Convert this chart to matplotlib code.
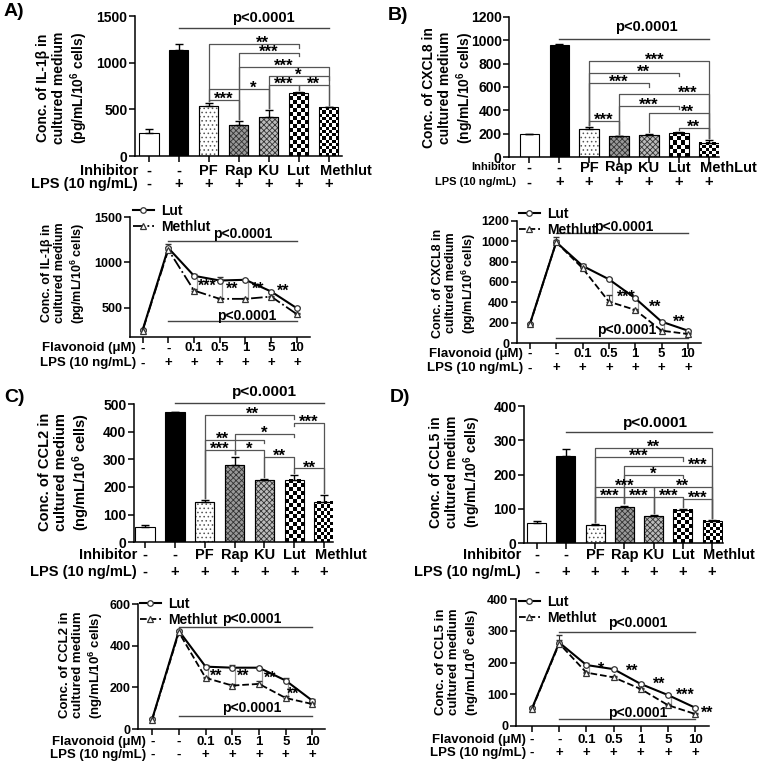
import numpy as np
import matplotlib.pyplot as plt
from matplotlib.transforms import blended_transform_factory

plt.rcParams['font.family'] = ['Liberation Sans', 'DejaVu Sans']
plt.rcParams['font.weight'] = 'bold'
plt.rcParams['mathtext.fontset'] = 'custom'
plt.rcParams['mathtext.rm'] = 'Liberation Sans:bold'
plt.rcParams['mathtext.default'] = 'rm'
plt.rcParams['hatch.linewidth'] = 0.6
plt.rcParams['axes.linewidth'] = 1.1

# ---------------- data -----------------
inhib_A = ['-', '-', 'PF', 'Rap', 'KU', 'Lut', 'Methlut']
inhib_B = ['-', '-', 'PF', 'Rap', 'KU', 'Lut', 'MethLut']
lps_bar = ['-', '+', '+', '+', '+', '+', '+']
flavonoid = ['-', '-', '0.1', '0.5', '1', '5', '10']
lps_line = ['-', '+', '+', '+', '+', '+', '+']
lps_line_C = ['-', '-', '+', '+', '+', '+', '+']

il1b_bar = [250, 1140, 540, 330, 420, 680, 520]
il1b_bar_err = [35, 55, 30, 40, 75, 10, 5]
cxcl8_bar = [195, 960, 245, 180, 190, 210, 125]
cxcl8_bar_err = [3, 5, 10, 5, 5, 3, 20]
ccl2_bar = [55, 470, 145, 280, 225, 225, 145]
ccl2_bar_err = [8, 2, 7, 30, 5, 17, 25]
ccl5_bar = [58, 255, 53, 107, 79, 97, 66]
ccl5_bar_err = [8, 20, 2, 3, 2, 2, 1]

il1b_lut = [252, 1160, 852, 800, 808, 678, 493]
il1b_lut_err = [10, 45, 15, 40, 10, 10, 10]
il1b_meth = [245, 1140, 689, 597, 597, 622, 427]
il1b_meth_err = [10, 30, 15, 10, 10, 10, 15]
cxcl8_lut = [189, 990, 758, 627, 441, 212, 124]
cxcl8_lut_err = [5, 50, 15, 10, 10, 5, 10]
cxcl8_meth = [185, 990, 735, 408, 327, 124, 91]
cxcl8_meth_err = [5, 20, 10, 60, 5, 5, 10]
ccl2_lut = [48, 472, 300, 295, 295, 233, 136]
ccl2_lut_err = [3, 5, 10, 15, 5, 12, 10]
ccl2_meth = [45, 465, 246, 209, 217, 149, 120]
ccl2_meth_err = [3, 5, 5, 8, 15, 8, 5]
ccl5_lut = [55, 263, 192, 179, 132, 97, 57]
ccl5_lut_err = [3, 25, 5, 5, 3, 3, 3]
ccl5_meth = [53, 260, 168, 153, 116, 65, 37]
ccl5_meth_err = [3, 10, 3, 3, 3, 3, 3]

# significance brackets: (from, to, height, stars, left leg, right leg, text x)
sig_A = [(2, 5, 1200, '**', 'l', 's', 3.8), (3, 5, 1104, '***', 'l', 's', None),
         (3, 6, 955, '***', 'l', 'l', None), (4, 6, 857, '*', 'l', 's', None),
         (4, 5, 760, '***', 'l', 'l', None), (5, 6, 760, '**', 'l', 'l', None),
         (2, 4, 716, '*', 'l', 'l', 3.5), (2, 3, 600, '***', 'l', 'l', None)]
sig_B = [(2, 6, 823, '***', 'l', 'l', 4.2), (2, 5, 723, '**', 'l', 's', 3.8),
         (2, 4, 632, '***', 'l', 's', None), (3, 6, 538, '***', 'l', 'l', 5.3),
         (3, 5, 438, '***', 'l', 's', None), (4, 6, 376, '**', 'l', 'l', 5.3),
         (2, 3, 313, '***', 'l', 'l', None), (5, 6, 253, '**', 'l', 'l', None)]
sig_C = [(2, 5, 460, '**', 'l', 's', 3.6), (5, 6, 432, '***', 's', 'l', None),
         (3, 5, 393, '*', 'l', 's', None), (2, 4, 370, '**', 'l', 's', 2.6),
         (2, 3, 333, '***', 'l', 'l', None), (3, 4, 333, '*', 'l', 'l', None),
         (4, 5, 309, '**', 'l', 'l', None), (5, 6, 267, '**', 'l', 'l', None)]
sig_D = [(2, 6, 277, '**', 'l', 'l', None), (2, 5, 251, '***', 'l', 's', None),
         (3, 6, 225, '***', 'l', 'l', 5.5), (3, 5, 199, '*', 'l', 's', None),
         (2, 4, 165, '***', 'l', 's', None), (4, 6, 165, '**', 'l', 'l', None),
         (2, 3, 136, '***', 'l', 'l', None), (3, 4, 136, '***', 'l', 'l', None),
         (4, 5, 136, '***', 'l', 'l', None), (5, 6, 130, '***', 'l', 'l', None)]

# stars between the curves: (stars, x, y) and bracket positions
stars_A = [('***', 2.5, 733), ('**', 3.5, 697), ('**', 4.5, 697), ('**', 5.45, 678)]
gaps_A = [2, 3, 4]
stars_B = [('***', 3.65, 441), ('**', 4.75, 343), ('**', 5.67, 196)]
gaps_B = [3, 4, 5]
stars_C = [('**', 2.4, 251), ('**', 3.4, 249), ('**', 4.4, 240), ('**', 5.27, 165)]
gaps_C = [2, 3, 4, 5]
stars_D = [('*', 2.55, 176), ('**', 3.7, 171), ('**', 4.67, 129), ('***', 5.63, 94), ('**', 6.46, 37)]
gaps_D = [2, 5]

W, H = 762, 764
fig = plt.figure(figsize=(W / 100, H / 100), dpi=100)


def fy(ypx):
    return 1 - ypx / H


def axes_at(x0, x1, ytop, ybot):
    return fig.add_axes([x0 / W, fy(ybot), (x1 - x0) / W, (ybot - ytop) / H])


def style(ax, xlim, ylim, yticks, size):
    ax.set_xlim(xlim)
    ax.set_ylim(ylim)
    ax.set_yticks(yticks)
    ax.set_xticks(range(7))
    ax.set_xticklabels([])
    ax.spines[['top', 'right']].set_visible(False)
    ax.tick_params(direction='out', width=1.1, length=4, labelsize=size, pad=1.5)


def rows(ax, names, labelsets, ys, xr, name_size, size):
    tr = blended_transform_factory(ax.transData, fig.transFigure)
    for name, labels, y in zip(names, labelsets, ys):
        fig.text(xr / W, fy(y), name, ha='right', va='center', fontsize=name_size)
        for i, lab in enumerate(labels):
            if len(lab) > 4:
                ax.text(i - 0.3, fy(y), lab, transform=tr, ha='left', va='center',
                        fontsize=size, clip_on=False)
            else:
                ax.text(i, fy(y), lab, transform=tr, ha='center', va='center',
                        fontsize=size, clip_on=False)


def stars(ax, x, y, lab, size=12):
    ax.annotate(lab, (x, y), xytext=(0, -4), textcoords='offset pixels',
                ha='center', va='baseline', fontsize=size, annotation_clip=False)


def pval(ax, x0, x1, y, tx, ty, size=10.5):
    ax.plot([x0, x1], [y, y], color='#444444', lw=1, clip_on=False)
    ax.text(tx, ty, 'p<0.0001', ha='center', va='center', fontsize=size, clip_on=False)


def bar_panel(box, xlim, ylim, yticks, vals, errs, sig, px_per_x):
    ax = axes_at(*box)
    w = 0.65
    px_per_y = (box[3] - box[2]) / (ylim[1] - ylim[0])
    styles = ['white', 'black', 'dots', 'grid', 'grid2', 'check', 'check2']
    for i, v in enumerate(vals):
        s = styles[i]
        if s.startswith('check'):
            n = 5 if s == 'check' else 6
            sq = w * px_per_x / n
            nr = max(1, int(round(v * px_per_y / sq)))
            board = np.add.outer(np.arange(nr), np.arange(n)) % 2
            ax.imshow(board, extent=(i - w / 2, i + w / 2, 0, v), cmap='gray',
                      interpolation='nearest', aspect='auto', origin='lower', zorder=1)
            ax.bar(i, v, w, facecolor='none', edgecolor='black', lw=0.8, zorder=2)
        elif s == 'black':
            ax.bar(i, v, w, color='black', edgecolor='black', lw=0.8, zorder=2)
        elif s == 'white':
            ax.bar(i, v, w, color='white', edgecolor='black', lw=0.8, zorder=2)
        elif s == 'dots':
            ax.bar(i, v, w, color='white', edgecolor='#555555', hatch='....', lw=0.8, zorder=2)
            ax.bar(i, v, w, facecolor='none', edgecolor='black', lw=0.8, zorder=2)
        else:
            ax.bar(i, v, w, color='#bbbbbb' if s == 'grid2' else '#999999',
                   edgecolor='#333333', hatch='xxxxxx', lw=0.8, zorder=2)
            ax.bar(i, v, w, facecolor='none', edgecolor='black', lw=0.8, zorder=2)
    ax.errorbar(range(7), vals, yerr=[np.zeros(7), errs], fmt='none', ecolor='black',
                elinewidth=1, capsize=3, capthick=1, zorder=3)
    short = 0.025 * (ylim[1] - ylim[0])
    tops = np.array(vals) + np.array(errs)
    for i, j, y, lab, ll, lr, tx in sig:
        yl = tops[i] + short * 0.6 if ll == 'l' else y - short
        yr = tops[j] + short * 0.6 if lr == 'l' else y - short
        ax.plot([i, i, j, j], [yl, y, y, yr], color='#555555', lw=0.9, clip_on=False)
        stars(ax, (i + j) / 2 if tx is None else tx, y, lab)
    style(ax, xlim, ylim, yticks, 10)
    return ax


def line_panel(box, xlim, ylim, yticks, lut, lut_err, meth, meth_err, ls, st, gaps):
    ax = axes_at(*box)
    x = np.arange(7)
    ax.errorbar(x, lut, yerr=[np.zeros(7), lut_err], fmt='none', ecolor='#333333',
                elinewidth=0.8, capsize=2.5, zorder=2)
    ax.errorbar(x, meth, yerr=[np.zeros(7), meth_err], fmt='none', ecolor='#333333',
                elinewidth=0.8, capsize=2.5, zorder=2)
    h1, = ax.plot(x, lut, color='black', lw=1.5, marker='o', ms=4, mfc='white',
                  mec='#333333', mew=0.9, zorder=3)
    h2, = ax.plot(x, meth, color='black', lw=1.3, ls=ls, marker='^', ms=4, mfc='white',
                  mec='#333333', mew=0.9, zorder=3)
    for g in gaps:
        lo, hi = meth[g], lut[g]
        ax.plot([g + 0.03, g + 0.1, g + 0.1, g + 0.03], [lo, lo, hi, hi],
                color='#999999', lw=0.9, zorder=1)
    for lab, sx, sy in st:
        stars(ax, sx, sy, lab, 11.5)
    style(ax, xlim, ylim, yticks, 9)
    return ax, (h1, h2)


def legend(handles, xpx, ypx):
    fig.legend(handles, ['Lut', 'Methlut'], loc='upper left', bbox_to_anchor=(xpx / W, fy(ypx)),
               frameon=False, fontsize=10, handlelength=1.5, handletextpad=0.5,
               labelspacing=0.15, borderpad=0, borderaxespad=0)


def ylab(text, xpx, ypx, size):
    fig.text(xpx / W, fy(ypx), text, rotation=90, ha='center', va='center',
             multialignment='center', fontsize=size, linespacing=1.2)


# ---------------- panel A -----------------
ax = bar_panel((135, 342, 16, 156), (-0.46, 6.45), (0, 1500), [0, 500, 1000, 1500],
               il1b_bar, il1b_bar_err, sig_A, 30.2)
pval(ax, 1, 6, 1371, 3.84, 1478)
rows(ax, ['Inhibitor', 'LPS (10 ng/mL)'], [inhib_A, lps_bar], [171, 184], 138, 10.5, 10.5)
ylab('Conc. of IL-1β in\ncultured medium\n(pg/mL/10$^6$ cells)', 63, 88, 10)

ax, hh = line_panel((130, 310, 217.3, 336.7), (-0.49, 6.51), (178, 1500), [500, 1000, 1500],
                    il1b_lut, il1b_lut_err, il1b_meth, il1b_meth_err, '-.', stars_A, gaps_A)
pval(ax, 1, 6, 1233, 3.9, 1320, 10)
pval(ax, 1, 6, 352, 4.06, 408, 10)
rows(ax, ['Flavonoid (μM)', 'LPS (10 ng/mL)'], [flavonoid, lps_line], [348.3, 363.3], 136, 9.5, 9.5)
legend(hh, 133, 204)
ylab('Conc. of IL-1β in\ncultured medium\n(pg/mL/10$^6$ cells)', 64, 273, 9)

# ---------------- panel B -----------------
ax = bar_panel((509.3, 719, 16.7, 157.3), (-0.67, 6.34), (0, 1200), range(0, 1201, 200),
               cxcl8_bar, cxcl8_bar_err, sig_B, 29.9)
pval(ax, 1, 6, 1009, 3.9, 1112)
rows(ax, ['Inhibitor', 'LPS (10 ng/mL)'], [inhib_B, lps_bar], [167.5, 182.3], 516, 8, 10.5)
ylab('Conc. of CXCL8 in\ncultured medium\n(ng/mL/10$^6$ cells)', 449, 88, 10)

ax, hh = line_panel((517, 701, 220.7, 343.3), (-0.49, 6.5), (0, 1200), range(0, 1201, 200),
                    cxcl8_lut, cxcl8_lut_err, cxcl8_meth, cxcl8_meth_err, '--', stars_B, gaps_B)
pval(ax, 1, 6, 1078, 3.57, 1143, 10)
pval(ax, 1, 6, 55, 3.69, 130, 10)
rows(ax, ['Flavonoid (μM)', 'LPS (10 ng/mL)'], [flavonoid, lps_line], [354, 368.3], 523, 9.5, 9.5)
legend(hh, 519, 207)
ylab('Conc. of CXCL8 in\ncultured medium\n(pg/mL/10$^6$ cells)', 455, 283, 9)

# ---------------- panel C -----------------
ax = bar_panel((134, 333, 404, 542.3), (-0.37, 6.3), (0, 500), range(0, 501, 100),
               ccl2_bar, ccl2_bar_err, sig_C, 29.9)
pval(ax, 1, 6, 502, 4.0, 544, 11)
rows(ax, ['Inhibitor', 'LPS (10 ng/mL)'], [inhib_A, lps_bar], [555, 571.7], 137, 10.5, 10.5)
ylab('Conc. of CCL2 in\ncultured medium\n(ng/mL/10$^6$ cells)', 65, 472, 10.5)

ax, hh = line_panel((138.3, 325, 604.3, 729), (-0.52, 6.47), (0, 600), [0, 200, 400, 600],
                    ccl2_lut, ccl2_lut_err, ccl2_meth, ccl2_meth_err, '--', stars_C, gaps_C)
pval(ax, 1, 6, 492, 3.73, 529, 10)
pval(ax, 1, 6, 63, 3.73, 100, 10)
rows(ax, ['Flavonoid (μM)', 'LPS (10 ng/mL)'], [flavonoid, lps_line_C], [741.7, 755], 146, 9.5, 9.5)
legend(hh, 140, 597)
ylab('Conc. of CCL2 in\ncultured medium\n(ng/mL/10$^6$ cells)', 82, 665, 9.5)

# ---------------- panel D -----------------
ax = bar_panel((524.3, 722.7, 406, 543.3), (-0.42, 6.36), (0, 400), range(0, 401, 100),
               ccl5_bar, ccl5_bar_err, sig_D, 29.3)
pval(ax, 1, 6, 323, 4.07, 350, 11)
rows(ax, ['Inhibitor', 'LPS (10 ng/mL)'], [inhib_A, lps_bar], [555, 571.7], 521, 10.5, 10.5)
ylab('Conc. of CCL5 in\ncultured medium\n(ng/mL/10$^6$ cells)', 456, 472, 10)

ax, hh = line_panel((516, 709.3, 599.3, 725.7), (-0.59, 6.52), (0, 400), range(0, 401, 100),
                    ccl5_lut, ccl5_lut_err, ccl5_meth, ccl5_meth_err, '--', stars_D, gaps_D)
pval(ax, 1, 6, 297, 3.9, 324, 10)
pval(ax, 1, 6, 20, 3.89, 41, 10)
rows(ax, ['Flavonoid (μM)', 'LPS (10 ng/mL)'], [flavonoid, lps_line], [740, 752.7], 526, 9.5, 9.5)
legend(hh, 519, 595)
ylab('Conc. of CCL5 in\ncultured medium\n(ng/mL/10$^6$ cells)', 458, 662, 9.5)

# panel letters
for lab, x, y in [('A)', 4, 12), ('B)', 388, 16), ('C)', 4, 397), ('D)', 390, 397)]:
    fig.text(x / W, fy(y), lab, ha='left', va='center', fontsize=14)

fig.savefig('out.png', dpi=100)
